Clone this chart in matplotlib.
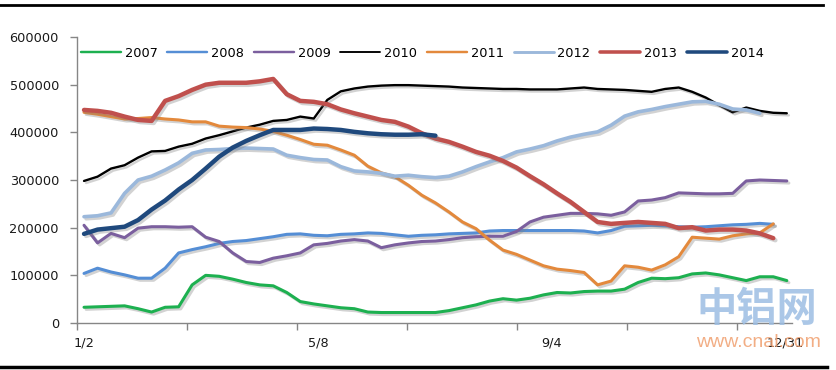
import numpy as np
import matplotlib
matplotlib.use('Agg')
import matplotlib.pyplot as plt
import matplotlib.patheffects as pe

plt.rcParams['font.family'] = ['DejaVu Sans']

# weekly readings, values in thousand tonnes (None = no data)
weeks = np.arange(53)
y2007 = [33, 34, 35, 36, 30, 23, 33, 34, 80, 100,
         98, 92, 85, 80, 78, 64, 45, 40, 36, 32,
         30, 23, 22, 22, 22, 22, 22, 26, 32, 38,
         46, 51, 48, 52, 59, 64, 63, 66, 67, 67,
         71, 85, 94, 93, 95, 103, 105, 101, 95, 89,
         97, 97, 89]
y2008 = [104, 115, 107, 101, 94, 94, 115, 147, 154, 160,
         167, 171, 173, 177, 181, 186, 187, 184, 183, 186,
         187, 189, 188, 185, 182, 184, 185, 187, 188, 189,
         193, 194, 194, 194, 194, 194, 194, 193, 189, 194,
         203, 204, 205, 204, 202, 201, 202, 204, 206, 207,
         209, 207, None]
y2009 = [205, 168, 188, 179, 199, 202, 202, 201, 202, 180,
         171, 147, 129, 127, 136, 141, 147, 164, 167, 172,
         175, 172, 158, 164, 168, 171, 172, 175, 179, 181,
         182, 182, 192, 212, 222, 226, 230, 230, 229, 226,
         233, 256, 258, 263, 273, 272, 271, 271, 272, 298,
         300, 299, 298]
y2010 = [298, 307, 324, 331, 347, 360, 361, 370, 376, 387,
         394, 402, 410, 416, 424, 426, 433, 429, 468, 486,
         492, 496, 498, 499, 499, 498, 497, 496, 494, 493,
         492, 491, 491, 490, 490, 490, 492, 494, 491, 490,
         489, 487, 485, 491, 494, 485, 473, 457, 442, 452,
         445, 441, 440]
y2011 = [442, 438, 433, 428, 429, 431, 428, 426, 422, 422,
         413, 411, 410, 407, 402, 394, 385, 375, 373, 363,
         352, 329, 315, 307, 289, 268, 252, 233, 212, 198,
         174, 153, 144, 132, 120, 113, 110, 106, 80, 88,
         120, 117, 111, 122, 139, 180, 178, 176, 183, 187,
         189, 208, None]
y2012 = [223, 225, 231, 272, 300, 308, 321, 336, 356, 363,
         364, 366, 367, 366, 365, 352, 347, 343, 342, 328,
         319, 317, 314, 308, 310, 307, 305, 308, 317, 328,
         338, 347, 359, 365, 372, 382, 390, 396, 401, 415,
         434, 443, 448, 454, 459, 464, 465, 459, 449, 447,
         440, None, None]
y2013 = [447, 445, 441, 433, 426, 424, 466, 476, 489, 500,
         504, 504, 504, 507, 512, 480, 466, 464, 459, 448,
         440, 433, 426, 422, 412, 398, 387, 380, 370, 359,
         351, 340, 326, 308, 291, 272, 254, 233, 212, 208,
         210, 212, 210, 208, 199, 201, 194, 196, 196, 194,
         188, 178, None]
y2014 = [187, 196, 199, 202, 216, 238, 257, 280, 300, 324,
         349, 368, 382, 394, 405, 405, 405, 408, 407, 405,
         401, 398, 396, 395, 395, 396, 393]

series = [
    ('2007', y2007, '#1DB050', 2.2),
    ('2008', y2008, '#558ED5', 2.2),
    ('2009', y2009, '#7B5F9E', 2.2),
    ('2010', y2010, '#000000', 1.7),
    ('2011', y2011, '#E3893C', 2.2),
    ('2012', y2012, '#9BB8DB', 2.6),
    ('2013', y2013, '#C0504D', 3.2),
    ('2014', y2014, '#1F497D', 3.2),
]

x_labels = ['1/2', '5/8', '9/4', '12/31']
x_label_weeks = [0, 17.3, 34.6, 51.9]

fig = plt.figure(figsize=(8.37, 3.70), dpi=100)

ax = fig.add_axes([0.092, 0.127, 0.854, 0.773])

shadow = [pe.SimpleLineShadow(offset=(1.5, -1.5), shadow_color='#808080', alpha=0.35),
          pe.Normal()]

for name, vals, color, lw in series:
    v = np.array([np.nan if a is None else a for a in vals], dtype=float) * 1000
    ax.plot(weeks[:len(v)], v, color=color, lw=lw, label=name,
            solid_capstyle='round', solid_joinstyle='round', path_effects=shadow)

ax.set_ylim(0, 600000)
ax.set_xlim(-0.52, 52.37)
ax.set_yticks(np.arange(0, 600001, 100000))
ax.set_yticklabels([str(t) for t in range(0, 600001, 100000)])

# tick marks between labels, labels on their own
ax.set_xticks(-0.52 + 8.14 * np.arange(7), minor=True)
ax.set_xticks(x_label_weeks)
ax.set_xticklabels(x_labels)
ax.tick_params(axis='x', which='major', length=0, pad=10, labelsize=9.3, colors='#1a1a1a')
ax.tick_params(axis='x', which='minor', length=5, width=1, color='#868686', direction='out')
ax.tick_params(axis='y', length=5, width=1, color='#868686', pad=8, labelsize=9.3,
               labelcolor='#1a1a1a')

for s in ['top', 'right']:
    ax.spines[s].set_visible(False)
for s in ['left', 'bottom']:
    ax.spines[s].set_color('#868686')
    ax.spines[s].set_linewidth(1)

leg = ax.legend(loc='center left', bbox_to_anchor=(0.0, 0.944), ncol=8, frameon=False,
                fontsize=9.3, handlelength=3.1, handletextpad=0.3, columnspacing=0.75,
                borderpad=0, borderaxespad=0.3)
for h in leg.get_lines():
    h.set_path_effects([])
    h.set_linewidth(h.get_linewidth() * 0.8)

# black rules above and below the chart, in figure coordinates
ax.plot([0, 0.983], [0.986, 0.986], transform=fig.transFigure, clip_on=False,
        color='black', lw=2)
ax.plot([0, 0.988], [0.009, 0.009], transform=fig.transFigure, clip_on=False,
        color='black', lw=2.5)

# watermark
ax.text(0.904, 0.163, '中铝网', transform=fig.transFigure, fontsize=29, fontweight='bold',
        color='#9DBEE3', alpha=0.85, ha='center', va='center',
        family=['Noto Sans CJK SC', 'DejaVu Sans'], zorder=10, clip_on=False)
ax.text(0.906, 0.073, 'www.cnal.com', transform=fig.transFigure, fontsize=14,
        color='#F0A070', alpha=0.85, ha='center', va='center',
        family=['Liberation Sans', 'DejaVu Sans'], zorder=10, clip_on=False)

fig.savefig('out.png', dpi=100)
